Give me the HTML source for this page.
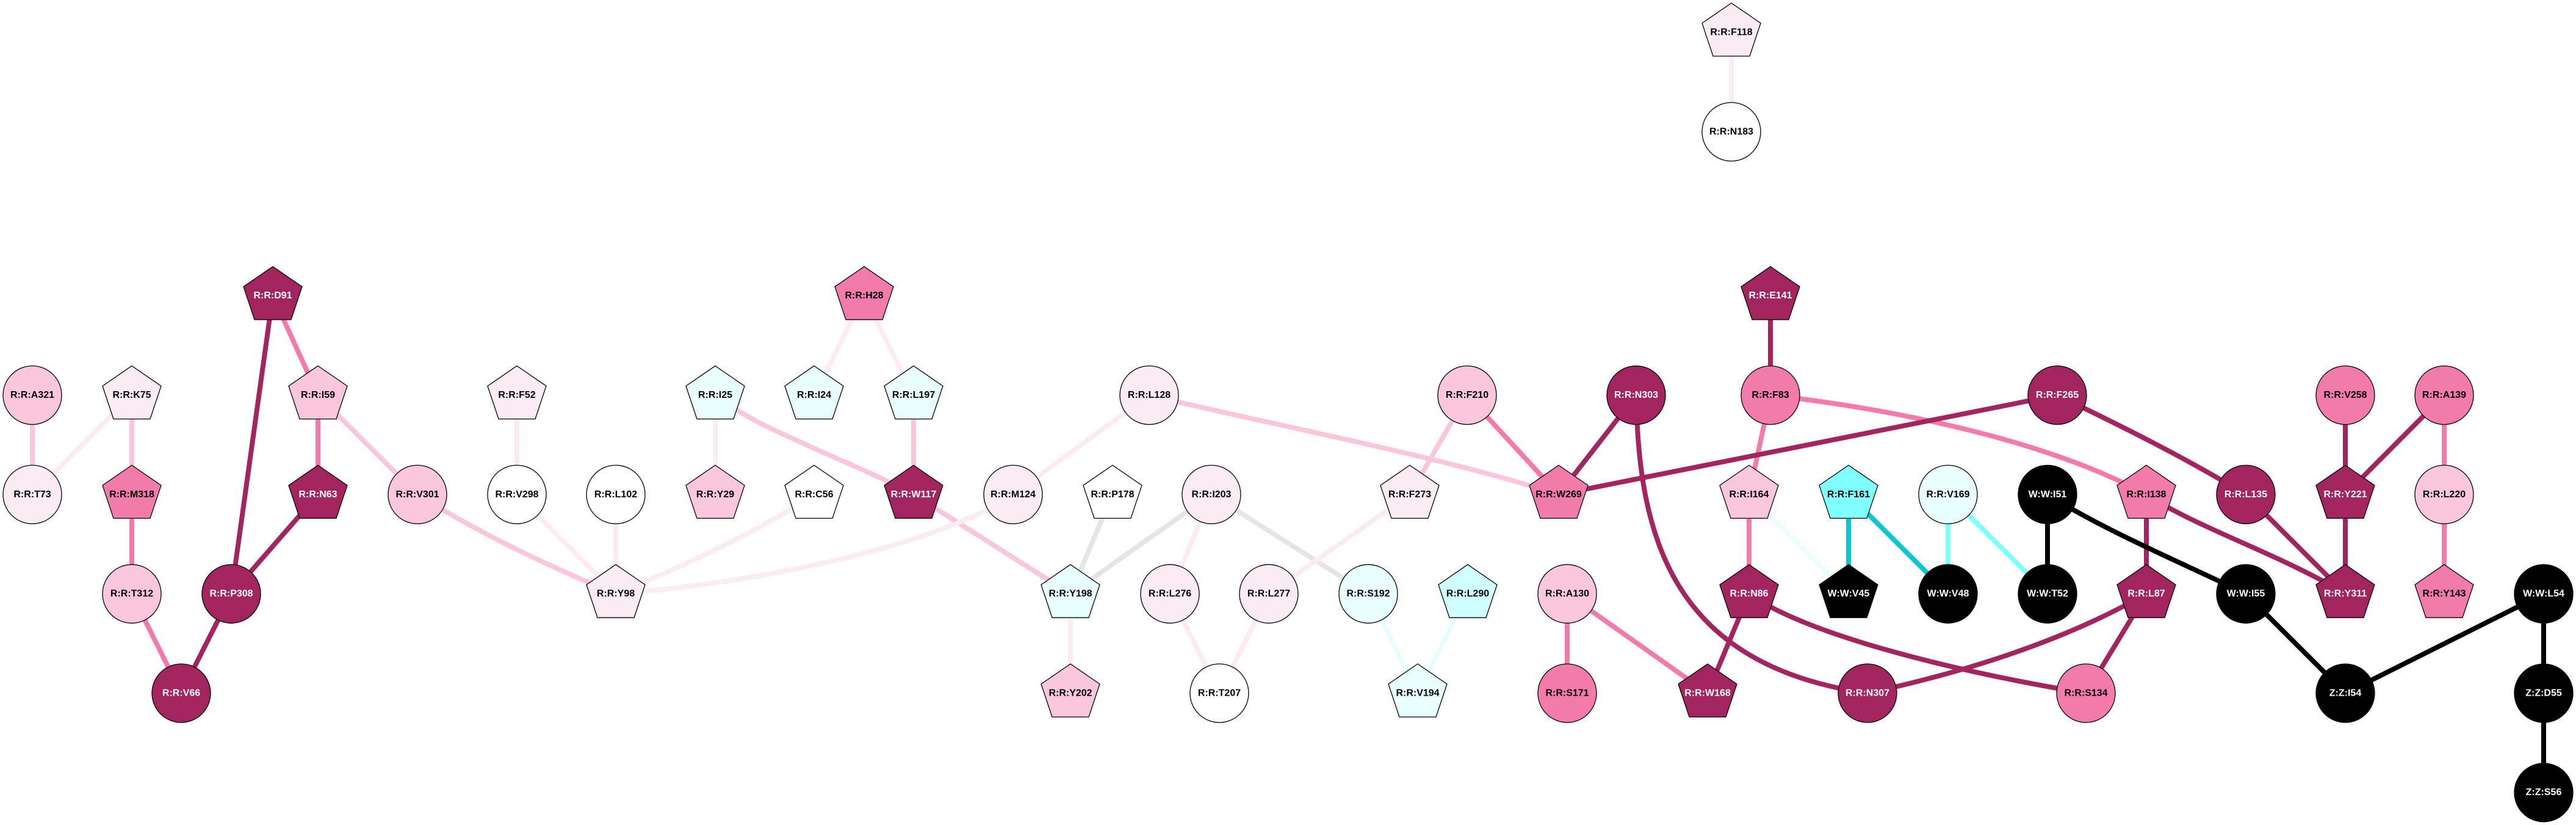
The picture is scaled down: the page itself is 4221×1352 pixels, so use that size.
<!DOCTYPE html>
<html><head><meta charset="utf-8"><style>
html,body{margin:0;padding:0;background:#fff}
svg{display:block}
text{font-family:"Liberation Sans",sans-serif;font-weight:bold;font-size:16px;text-anchor:middle;fill:#000}
.e .vl{stroke:#fbebf3}.e .lp{stroke:#f9c6dc}.e .m{stroke:#f27bab}.e .d{stroke:#a2255f}.e .k{stroke:#000}.e .lc{stroke:#e8fffe}.e .c{stroke:#7fffff}.e .dc{stroke:#0cc6d0}.e .g{stroke:#e5e5e5}
.e path{fill:none;stroke-width:8}
.n circle,.n use{stroke:#000;stroke-width:1.3}
.W{fill:#fff}.VL{fill:#fbebf3}.LP{fill:#f9c6dc}.M{fill:#f27bab}.D{fill:#a2255f}.K{fill:#000}.LC{fill:#e8fffe}.C{fill:#7fffff}.C2{fill:#cfffff}
.t text{fill:#fff}
</style></head><body>
<svg xmlns="http://www.w3.org/2000/svg" width="4221" height="1352" viewBox="0 0 4221 1352">
<rect width="4221" height="1352" fill="#fff"/>
<defs><path id="P" d="M0-48L48-15 30 39H-30L-48-15Z"/></defs>
<g class="e">
<path class="vl" d="M2837 53V216"/>
<path class="lp" d="M53 647.600V810.400"/>
<path class="vl" d="M216 647.600L53 810.400"/>
<path class="lp" d="M216 647.600V810.400"/>
<path class="m" d="M216 810.400V973.200"/>
<path class="m" d="M216 973.200L297 1136"/>
<path class="d" d="M379 973.200L297 1136"/>
<path class="d" d="M447 484.800L379 973.200"/>
<path class="m" d="M447 484.800L521 647.600"/>
<path class="m" d="M521 647.600V810.400"/>
<path class="d" d="M521 810.400L379 973.200"/>
<path class="lp" d="M521 647.600L684 810.400"/>
<path class="lp" d="M684 810.400C780 870 880 920 1009 973.200"/>
<path class="vl" d="M847 647.600V810.400"/>
<path class="vl" d="M847 810.400L1009 973.200"/>
<path class="vl" d="M1009 810.400V973.200"/>
<path class="vl" d="M1334 810.400C1260 860 1130 925 1009 973.200"/>
<path class="vl" d="M1416 484.800L1334 647.600"/>
<path class="vl" d="M1416 484.800L1497 647.600"/>
<path class="vl" d="M1172 647.600V810.400"/>
<path class="lp" d="M1497 647.600V810.400"/>
<path class="lp" d="M1172 647.600C1225 688 1270 705 1330 733C1390 760 1440 780 1497 810.400L1754 973.200"/>
<path class="vl" d="M1660 810.400C1560 880 1300 950 1009 973.200"/>
<path class="vl" d="M1883 647.600L1660 810.400"/>
<path class="lp" d="M1883 647.600C2100 700 2350 745 2554 810.400"/>
<path class="g" d="M1823 810.400L1754 973.200"/>
<path class="g" d="M1985 810.400L1754 973.200"/>
<path class="g" d="M1985 810.400L2242 973.200"/>
<path class="vl" d="M1985 810.400L1917 973.200"/>
<path class="vl" d="M1754 973.200V1136"/>
<path class="vl" d="M1917 973.200L1998 1136"/>
<path class="vl" d="M2079 973.200L1998 1136"/>
<path class="vl" d="M2310 810.400L2079 973.200"/>
<path class="lc" d="M2242 973.200L2323 1136"/>
<path class="lc" d="M2405 973.200L2323 1136"/>
<path class="lp" d="M2404 647.600L2310 810.400"/>
<path class="m" d="M2404 647.600L2554 810.400"/>
<path class="m" d="M2568 973.200V1136"/>
<path class="m" d="M2568 973.200L2798 1136"/>
<path class="m" d="M2901 647.600L2866 810.400"/>
<path class="m" d="M2866 810.400V973.200"/>
<path class="lc" d="M2866 810.400L3029 973.200"/>
<path class="m" d="M2901 647.600C3100 670 3350 720 3517 810.400"/>
<path class="d" d="M2681 647.600L2554 810.400"/>
<path class="d" d="M2681 647.600C2685 880 2740 1090 3060 1136"/>
<path class="d" d="M3371 647.600L2554 810.400"/>
<path class="d" d="M2901 484.800V647.600"/>
<path class="d" d="M2866 973.200L2798 1136"/>
<path class="d" d="M2866 973.200C2960 1040 3200 1100 3418 1136"/>
<path class="dc" d="M3029 810.400V973.200"/>
<path class="dc" d="M3029 810.400L3192 973.200"/>
<path class="c" d="M3192 810.400V973.200"/>
<path class="c" d="M3192 810.400L3355 973.200"/>
<path class="d" d="M3371 647.600C3480 700 3580 750 3680 810.400"/>
<path class="d" d="M3517 810.400V973.200"/>
<path class="d" d="M3517 810.400C3600 865 3740 910 3843 973.200"/>
<path class="d" d="M3517 973.200C3400 1040 3250 1095 3060 1136"/>
<path class="d" d="M3517 973.200L3418 1136"/>
<path class="d" d="M3680 810.400L3843 973.200"/>
<path class="d" d="M3843 647.600V810.400"/>
<path class="d" d="M4005 647.600L3843 810.400"/>
<path class="d" d="M3843 810.400V973.200"/>
<path class="m" d="M4005 647.600V810.400"/>
<path class="m" d="M4005 810.400V973.200"/>
<path class="k" d="M3355 810.400V973.200"/>
<path class="k" d="M3355 810.400C3450 870 3570 920 3680 973.200"/>
<path class="k" d="M3680 973.200L3843 1136"/>
<path class="k" d="M4168 973.200L3843 1136"/>
<path class="k" d="M4168 973.200V1136"/>
<path class="k" d="M4168 1136V1298.800"/>
</g>
<g class="n">
<g transform="translate(2837 53)"><use href="#P" class="VL"/><text y="4.400">R:R:F118</text></g>
<g transform="translate(2837 216)"><circle r="48" class="W"/><text y="4.400">R:R:N183</text></g>
<g class="t" transform="translate(447 484.800)"><use href="#P" class="D"/><text y="4.400">R:R:D91</text></g>
<g transform="translate(1416 484.800)"><use href="#P" class="M"/><text y="4.400">R:R:H28</text></g>
<g class="t" transform="translate(2901 484.800)"><use href="#P" class="D"/><text y="4.400">R:R:E141</text></g>
<g transform="translate(53 647.600)"><circle r="48" class="LP"/><text y="4.400">R:R:A321</text></g>
<g transform="translate(216 647.600)"><use href="#P" class="VL"/><text y="4.400">R:R:K75</text></g>
<g transform="translate(521 647.600)"><use href="#P" class="LP"/><text y="4.400">R:R:I59</text></g>
<g transform="translate(847 647.600)"><use href="#P" class="VL"/><text y="4.400">R:R:F52</text></g>
<g transform="translate(1172 647.600)"><use href="#P" class="LC"/><text y="4.400">R:R:I25</text></g>
<g transform="translate(1334 647.600)"><use href="#P" class="LC"/><text y="4.400">R:R:I24</text></g>
<g transform="translate(1497 647.600)"><use href="#P" class="LC"/><text y="4.400">R:R:L197</text></g>
<g transform="translate(1883 647.600)"><circle r="48" class="VL"/><text y="4.400">R:R:L128</text></g>
<g transform="translate(2404 647.600)"><circle r="48" class="LP"/><text y="4.400">R:R:F210</text></g>
<g class="t" transform="translate(2681 647.600)"><circle r="48" class="D"/><text y="4.400">R:R:N303</text></g>
<g transform="translate(2901 647.600)"><circle r="48" class="M"/><text y="4.400">R:R:F83</text></g>
<g class="t" transform="translate(3371 647.600)"><circle r="48" class="D"/><text y="4.400">R:R:F265</text></g>
<g transform="translate(3843 647.600)"><circle r="48" class="M"/><text y="4.400">R:R:V258</text></g>
<g transform="translate(4005 647.600)"><circle r="48" class="M"/><text y="4.400">R:R:A139</text></g>
<g transform="translate(53 810.400)"><circle r="48" class="VL"/><text y="4.400">R:R:T73</text></g>
<g transform="translate(216 810.400)"><use href="#P" class="M"/><text y="4.400">R:R:M318</text></g>
<g class="t" transform="translate(521 810.400)"><use href="#P" class="D"/><text y="4.400">R:R:N63</text></g>
<g transform="translate(684 810.400)"><circle r="48" class="LP"/><text y="4.400">R:R:V301</text></g>
<g transform="translate(847 810.400)"><circle r="48" class="W"/><text y="4.400">R:R:V298</text></g>
<g transform="translate(1009 810.400)"><circle r="48" class="W"/><text y="4.400">R:R:L102</text></g>
<g transform="translate(1172 810.400)"><use href="#P" class="LP"/><text y="4.400">R:R:Y29</text></g>
<g transform="translate(1334 810.400)"><use href="#P" class="W"/><text y="4.400">R:R:C56</text></g>
<g class="t" transform="translate(1497 810.400)"><use href="#P" class="D"/><text y="4.400">R:R:W117</text></g>
<g transform="translate(1660 810.400)"><circle r="48" class="VL"/><text y="4.400">R:R:M124</text></g>
<g transform="translate(1823 810.400)"><use href="#P" class="W"/><text y="4.400">R:R:P178</text></g>
<g transform="translate(1985 810.400)"><circle r="48" class="VL"/><text y="4.400">R:R:I203</text></g>
<g transform="translate(2310 810.400)"><use href="#P" class="VL"/><text y="4.400">R:R:F273</text></g>
<g transform="translate(2554 810.400)"><use href="#P" class="M"/><text y="4.400">R:R:W269</text></g>
<g transform="translate(2866 810.400)"><use href="#P" class="LP"/><text y="4.400">R:R:I164</text></g>
<g transform="translate(3029 810.400)"><use href="#P" class="C"/><text y="4.400">R:R:F161</text></g>
<g transform="translate(3192 810.400)"><circle r="48" class="LC"/><text y="4.400">R:R:V169</text></g>
<g class="t" transform="translate(3355 810.400)"><circle r="48" class="K"/><text y="4.400">W:W:I51</text></g>
<g transform="translate(3517 810.400)"><use href="#P" class="M"/><text y="4.400">R:R:I138</text></g>
<g class="t" transform="translate(3680 810.400)"><circle r="48" class="D"/><text y="4.400">R:R:L135</text></g>
<g class="t" transform="translate(3843 810.400)"><use href="#P" class="D"/><text y="4.400">R:R:Y221</text></g>
<g transform="translate(4005 810.400)"><circle r="48" class="LP"/><text y="4.400">R:R:L220</text></g>
<g transform="translate(216 973.200)"><circle r="48" class="LP"/><text y="4.400">R:R:T312</text></g>
<g class="t" transform="translate(379 973.200)"><circle r="48" class="D"/><text y="4.400">R:R:P308</text></g>
<g transform="translate(1009 973.200)"><use href="#P" class="VL"/><text y="4.400">R:R:Y98</text></g>
<g transform="translate(1754 973.200)"><use href="#P" class="LC"/><text y="4.400">R:R:Y198</text></g>
<g transform="translate(1917 973.200)"><circle r="48" class="VL"/><text y="4.400">R:R:L276</text></g>
<g transform="translate(2079 973.200)"><circle r="48" class="VL"/><text y="4.400">R:R:L277</text></g>
<g transform="translate(2242 973.200)"><circle r="48" class="LC"/><text y="4.400">R:R:S192</text></g>
<g transform="translate(2405 973.200)"><use href="#P" class="C2"/><text y="4.400">R:R:L290</text></g>
<g transform="translate(2568 973.200)"><circle r="48" class="LP"/><text y="4.400">R:R:A130</text></g>
<g class="t" transform="translate(2866 973.200)"><use href="#P" class="D"/><text y="4.400">R:R:N86</text></g>
<g class="t" transform="translate(3029 973.200)"><use href="#P" class="K"/><text y="4.400">W:W:V45</text></g>
<g class="t" transform="translate(3192 973.200)"><circle r="48" class="K"/><text y="4.400">W:W:V48</text></g>
<g class="t" transform="translate(3355 973.200)"><circle r="48" class="K"/><text y="4.400">W:W:T52</text></g>
<g class="t" transform="translate(3517 973.200)"><use href="#P" class="D"/><text y="4.400">R:R:L87</text></g>
<g class="t" transform="translate(3680 973.200)"><circle r="48" class="K"/><text y="4.400">W:W:I55</text></g>
<g class="t" transform="translate(3843 973.200)"><use href="#P" class="D"/><text y="4.400">R:R:Y311</text></g>
<g transform="translate(4005 973.200)"><use href="#P" class="M"/><text y="4.400">R:R:Y143</text></g>
<g class="t" transform="translate(4168 973.200)"><circle r="48" class="K"/><text y="4.400">W:W:L54</text></g>
<g class="t" transform="translate(297 1136)"><circle r="48" class="D"/><text y="4.400">R:R:V66</text></g>
<g transform="translate(1754 1136)"><use href="#P" class="LP"/><text y="4.400">R:R:Y202</text></g>
<g transform="translate(1998 1136)"><circle r="48" class="W"/><text y="4.400">R:R:T207</text></g>
<g transform="translate(2323 1136)"><use href="#P" class="LC"/><text y="4.400">R:R:V194</text></g>
<g transform="translate(2568 1136)"><circle r="48" class="M"/><text y="4.400">R:R:S171</text></g>
<g class="t" transform="translate(2798 1136)"><use href="#P" class="D"/><text y="4.400">R:R:W168</text></g>
<g class="t" transform="translate(3060 1136)"><circle r="48" class="D"/><text y="4.400">R:R:N307</text></g>
<g transform="translate(3418 1136)"><circle r="48" class="M"/><text y="4.400">R:R:S134</text></g>
<g class="t" transform="translate(3843 1136)"><circle r="48" class="K"/><text y="4.400">Z:Z:I54</text></g>
<g class="t" transform="translate(4168 1136)"><circle r="48" class="K"/><text y="4.400">Z:Z:D55</text></g>
<g class="t" transform="translate(4168 1298.800)"><circle r="48" class="K"/><text y="4.400">Z:Z:S56</text></g>
</g>
</svg>
</body></html>
